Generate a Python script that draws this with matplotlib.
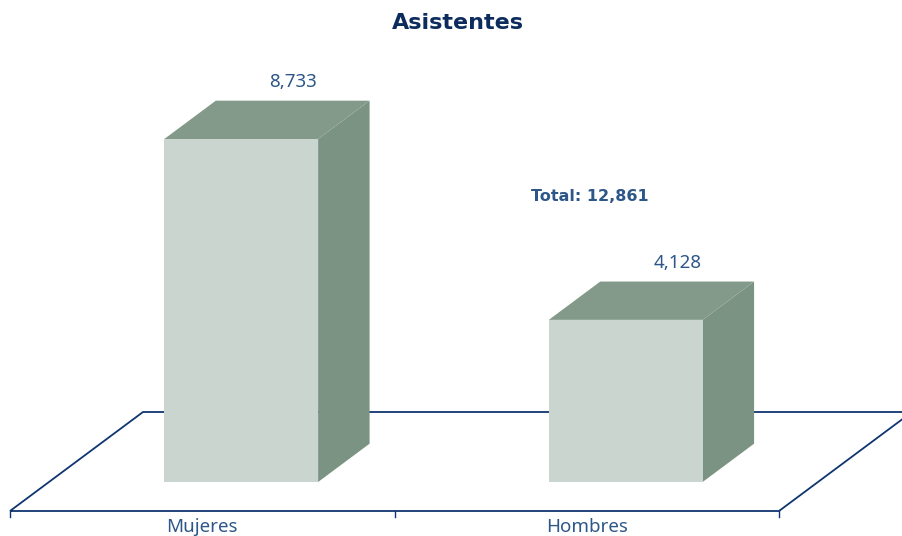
import matplotlib.pyplot as plt
from matplotlib.patches import Polygon

categories = ["Mujeres", "Hombres"]
values = [8733, 4128]
total_text = "Total: 12,861"
title = "Asistentes"

plt.rcParams['font.family'] = ['Noto Sans', 'DejaVu Sans']
bold_family = ['DejaVu Sans']

# pseudo-3d layout (pixels at 100 dpi)
PX_PER_CAT = 384.5
PX_PER_VAL = 343 / 8733.0
DEPTH_DX = 133 / PX_PER_CAT          # in category units
DEPTH_DY = 99 / PX_PER_VAL           # in value units
HALF_W = 0.2
Z_FRONT, Z_BACK = 0.293, 0.68

front_col = '#cbd5cf'
top_col = '#83998a'
side_col = '#7b9383'
line_col = '#0f3570'
text_col = '#2d5788'
title_col = '#0d2c5e'


def proj(x, y, z):
    return (x + z * DEPTH_DX, y + z * DEPTH_DY)


fig = plt.figure(figsize=(9.02, 5.36), dpi=100)
ax = fig.add_axes([0, 0, 1, 1])
ax.set_xlim(-0.5 - 10 / PX_PER_CAT, -0.5 + 892 / PX_PER_CAT)
ax.set_ylim(-25 / PX_PER_VAL, 511 / PX_PER_VAL)
ax.axis('off')

# floor
floor = [proj(-0.5, 0, 0), proj(1.5, 0, 0), proj(1.5, 0, 1), proj(-0.5, 0, 1)]
ax.add_patch(Polygon(floor, closed=True, fill=False, edgecolor=line_col,
                     linewidth=1.3, zorder=1))
for t in [-0.5, 0.5, 1.5]:
    ax.plot([t, t], [0, -6 / PX_PER_VAL], color=line_col, linewidth=1.0, zorder=1)

for i, (cat, v) in enumerate(zip(categories, values)):
    x0, x1 = i - HALF_W, i + HALF_W
    side = [proj(x1, 0, Z_FRONT), proj(x1, 0, Z_BACK), proj(x1, v, Z_BACK), proj(x1, v, Z_FRONT)]
    top = [proj(x0, v, Z_FRONT), proj(x1, v, Z_FRONT), proj(x1, v, Z_BACK), proj(x0, v, Z_BACK)]
    front = [proj(x0, 0, Z_FRONT), proj(x1, 0, Z_FRONT), proj(x1, v, Z_FRONT), proj(x0, v, Z_FRONT)]
    ax.add_patch(Polygon(side, closed=True, facecolor=side_col, edgecolor='none', zorder=2))
    ax.add_patch(Polygon(top, closed=True, facecolor=top_col, edgecolor='none', zorder=2))
    ax.add_patch(Polygon(front, closed=True, facecolor=front_col, edgecolor='none', zorder=3))

    lx, ly = proj(i, v, Z_BACK)
    ax.text(lx, ly + 19 / PX_PER_VAL, f"{v:,}", ha='center', va='center',
            fontsize=13.5, color=text_col)
    ax.text(i, -7 / PX_PER_VAL, cat, ha='center', va='top', fontsize=13.5, color=text_col)

fig.text(590 / 902, 1 - 196 / 536, total_text, ha='center', va='center',
         fontsize=11.5, fontweight='bold', color=text_col, family=bold_family)
fig.text(458 / 902, 1 - 23 / 536, title, ha='center', va='center',
         fontsize=16, fontweight='bold', color=title_col, family=bold_family)

fig.savefig('out.png', dpi=100)
